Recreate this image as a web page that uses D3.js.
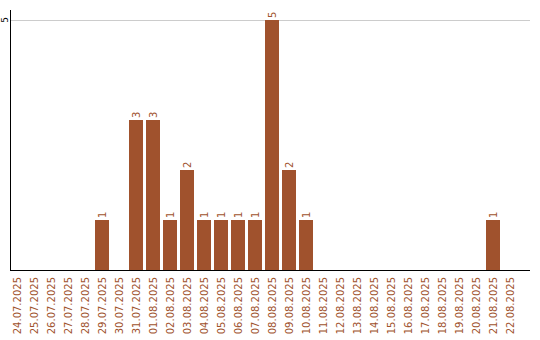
<!DOCTYPE html>
<html>
<head>
<meta charset="utf-8">
<script src="https://cdn.jsdelivr.net/npm/d3@7"></script>
<style>
  body { margin: 0; background: #fff; }
  text { font-family: "DejaVu Sans", sans-serif; }
</style>
</head>
<body>
<script>
    var dates = ["24.07.2025", "25.07.2025", "26.07.2025", "27.07.2025", "28.07.2025",
        "29.07.2025", "30.07.2025", "31.07.2025", "01.08.2025", "02.08.2025",
        "03.08.2025", "04.08.2025", "05.08.2025", "06.08.2025", "07.08.2025",
        "08.08.2025", "09.08.2025", "10.08.2025", "11.08.2025", "12.08.2025",
        "13.08.2025", "14.08.2025", "15.08.2025", "16.08.2025", "17.08.2025",
        "18.08.2025", "19.08.2025", "20.08.2025", "21.08.2025", "22.08.2025"];
    var counts = [0, 0, 0, 0, 0, 1, 0, 3, 3, 1, 2, 1, 1, 1, 1, 5, 2, 1, 0, 0, 0, 0, 0, 0, 0, 0, 0, 0, 1, 0];
    var yTicks = [5];

    var w = 540;
    var h = 340;
    var barColor = "#a0522d";

    var svg = d3.select("body").append("svg")
        .attr("width", w)
        .attr("height", h);

    // step 17px, bar 14px
    var x = d3.scaleBand()
        .domain(dates)
        .range([10, 517])
        .paddingInner(3 / 17)
        .paddingOuter(0)
        .align(0);

    var y = d3.scaleLinear()
        .domain([0, 5])
        .range([270, 20]);

    // grid line
    svg.selectAll("line.grid")
        .data(yTicks)
        .enter()
        .append("line")
        .attr("class", "grid")
        .attr("x1", 11).attr("x2", 530)
        .attr("y1", function (d) { return y(d) + 0.5; })
        .attr("y2", function (d) { return y(d) + 0.5; })
        .attr("stroke", "#cccccc");

    svg.selectAll("text.ytick")
        .data(yTicks)
        .enter()
        .append("text")
        .attr("class", "ytick")
        .attr("transform", function (d) { return "translate(8," + y(d) + ") rotate(-90)"; })
        .attr("text-anchor", "middle")
        .attr("font-size", 9)
        .attr("fill", "#000")
        .text(function (d) { return d; });

    // bars
    var data = dates.map(function (d, i) { return { date: d, v: counts[i] }; });

    svg.selectAll("rect")
        .data(data.filter(function (d) { return d.v > 0; }))
        .enter()
        .append("rect")
        .attr("x", function (d) { return x(d.date); })
        .attr("y", function (d) { return y(d.v); })
        .attr("width", x.bandwidth())
        .attr("height", function (d) { return y(0) - y(d.v); })
        .attr("fill", barColor);

    svg.selectAll("text.val")
        .data(data.filter(function (d) { return d.v > 0; }))
        .enter()
        .append("text")
        .attr("class", "val")
        .attr("transform", function (d) {
            return "translate(" + (x(d.date) + x.bandwidth() / 2 + 3.5) + "," + (y(d.v) - 2) + ") rotate(-90)";
        })
        .attr("font-size", 10)
        .attr("fill", barColor)
        .text(function (d) { return d.v; });

    // axes lines
    svg.append("line")
        .attr("x1", 10.5).attr("x2", 10.5)
        .attr("y1", 10).attr("y2", 270)
        .attr("stroke", "#000");
    svg.append("line")
        .attr("x1", 10).attr("x2", 530)
        .attr("y1", 270.5).attr("y2", 270.5)
        .attr("stroke", "#000");

    // x labels
    svg.selectAll("text.xlab")
        .data(dates)
        .enter()
        .append("text")
        .attr("class", "xlab")
        .attr("transform", function (d) {
            return "translate(" + (x(d) + x.bandwidth() / 2 + 3.5) + ",277) rotate(-90)";
        })
        .attr("text-anchor", "end")
        .attr("font-size", 10)
        .attr("fill", barColor)
        .text(function (d) { return d; });
</script>
</body>
</html>
